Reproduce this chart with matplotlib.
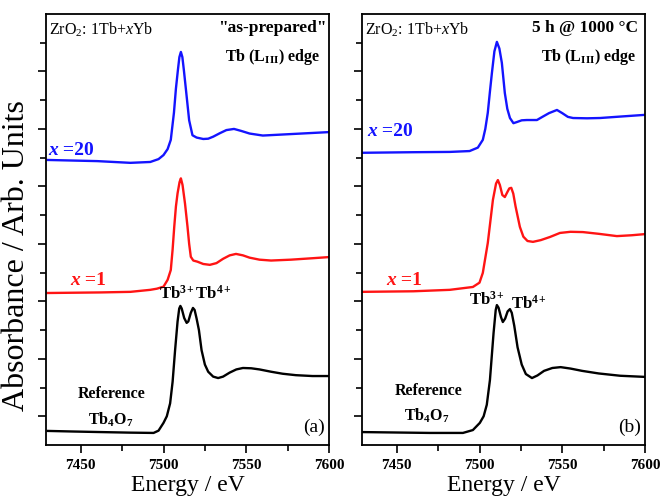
import matplotlib
matplotlib.use("Agg")
import matplotlib.pyplot as plt
from matplotlib.ticker import FixedLocator, MultipleLocator

plt.rcParams['font.family'] = ['Liberation Serif', 'DejaVu Serif']
plt.rcParams['mathtext.fontset'] = 'custom'
plt.rcParams['mathtext.rm'] = 'Liberation Serif'
plt.rcParams['mathtext.it'] = 'Liberation Serif:italic'
plt.rcParams['mathtext.bf'] = 'Liberation Serif:bold'

# ---------------- data: panel (a) "as-prepared" ----------------
a_ref_E = [7430, 7445, 7462, 7480, 7494, 7497, 7500, 7502, 7504, 7505.5, 7507, 7508.5, 7509.5,
           7510.2, 7511, 7512.5, 7514, 7515, 7516.5, 7517.8, 7518.8, 7520, 7521.4, 7523, 7525,
           7527, 7530, 7533, 7536, 7540, 7544, 7548, 7553, 7558, 7565, 7572, 7580, 7590, 7600]
a_ref_y = [0.49, 0.47, 0.45, 0.43, 0.42, 0.50, 0.77, 1.0, 1.45, 2.2, 3.3, 4.3, 4.75,
           4.84, 4.75, 4.42, 4.25, 4.3, 4.6, 4.77, 4.7, 4.4, 4.0, 3.3, 2.8,
           2.55, 2.38, 2.33, 2.38, 2.52, 2.63, 2.68, 2.67, 2.63, 2.55, 2.48, 2.43, 2.40, 2.40]

a_x1_E = [7430, 7462, 7480, 7492, 7496, 7500, 7502.5, 7504.4, 7505.5, 7506.5, 7507.5, 7508.5,
          7509.7, 7510.5, 7511.5, 7513, 7514.5, 7515.5, 7516.5, 7518, 7520.5, 7524, 7528,
          7532, 7536, 7540, 7543.8, 7548, 7552, 7558, 7565, 7577, 7590, 7600]
a_x1_y = [5.29, 5.31, 5.33, 5.40, 5.44, 5.51, 5.75, 6.09, 6.8, 7.6, 8.3, 8.76,
          9.15, 9.28, 9.05, 8.4, 7.6, 7.0, 6.55, 6.42, 6.38, 6.3, 6.27,
          6.33, 6.48, 6.6, 6.65, 6.6, 6.52, 6.45, 6.42, 6.45, 6.5, 6.54]

a_x20_E = [7430, 7460, 7480, 7492, 7497, 7500, 7502.5, 7504.4, 7506.3, 7507.5, 7508.7, 7509.6,
           7510.5, 7511.4, 7512.3, 7513.5, 7515.5, 7517.5, 7520, 7524, 7527, 7530, 7534,
           7538, 7542.6, 7547, 7552, 7560, 7570, 7580, 7590, 7600]
a_x20_y = [9.92, 9.88, 9.82, 9.85, 9.95, 10.09, 10.3, 10.62, 11.56, 12.4, 13.05, 13.5,
           13.68, 13.5, 13.05, 12.4, 11.3, 10.78, 10.7, 10.65, 10.66, 10.73, 10.85,
           10.96, 11.0, 10.93, 10.84, 10.77, 10.8, 10.83, 10.86, 10.89]

# ---------------- data: panel (b) "5 h @ 1000 °C" ----------------
b_ref_E = [7429, 7470, 7490, 7496, 7500.2, 7502.5, 7504.4, 7506.3, 7508.5, 7509.8, 7510.5,
           7511.5, 7513, 7514.1, 7515.5, 7517, 7518.4, 7519.5, 7521, 7523, 7525.5, 7528,
           7531.7, 7535, 7539, 7544, 7549, 7555, 7562, 7572, 7585, 7600]
b_ref_y = [0.45, 0.42, 0.42, 0.52, 0.77, 1.0, 1.4, 2.26, 3.9, 4.7, 4.87,
           4.78, 4.45, 4.28, 4.4, 4.65, 4.73, 4.6, 4.15, 3.4, 2.8, 2.47,
           2.33, 2.42, 2.58, 2.68, 2.71, 2.66, 2.58, 2.49, 2.41, 2.37]

b_x1_E = [7429, 7460, 7482, 7496, 7500, 7502, 7505, 7508.1, 7510, 7511.1, 7512.3, 7513.8,
          7515.3, 7516.8, 7518, 7519.2, 7520.4, 7521.8, 7524.4, 7526.5, 7529, 7532.3, 7537,
          7542.6, 7548.6, 7555, 7562.5, 7572, 7583, 7592, 7600]
b_x1_y = [5.33, 5.35, 5.40, 5.50, 5.65, 5.99, 7.03, 8.53, 9.1, 9.22, 9.05, 8.7,
          8.63, 8.8, 8.93, 8.95, 8.75, 8.3, 7.59, 7.25, 7.1, 7.07, 7.13,
          7.24, 7.38, 7.42, 7.41, 7.35, 7.27, 7.3, 7.34]

b_x20_E = [7429, 7460, 7482, 7494, 7499, 7502, 7503.5, 7505, 7506.3, 7507.5, 7509, 7510.5,
           7512, 7513.5, 7515.3, 7516.8, 7518.4, 7520.5, 7522.6, 7525.5, 7528.6, 7534.7,
           7538, 7542, 7546.8, 7550, 7553.4, 7556.5, 7565, 7572.8, 7585, 7600]
b_x20_y = [10.17, 10.19, 10.20, 10.23, 10.35, 10.62, 11.0, 11.56, 12.3, 12.95, 13.7, 14.03,
           13.8, 13.3, 12.25, 11.7, 11.38, 11.2, 11.24, 11.3, 11.31, 11.31,
           11.42, 11.55, 11.66, 11.55, 11.42, 11.38, 11.37, 11.38, 11.43, 11.49]

x_ticks = [7450, 7500, 7550, 7600]

BLUE = '#1414ff'
RED = '#ff1414'

fig = plt.figure(figsize=(6.62, 5.04), dpi=100)
ax_a = fig.add_axes([46/662, 1-445/504, (329-46)/662, (445-14)/504])
ax_b = fig.add_axes([362/662, 1-445/504, (645-362)/662, (445-14)/504])

lw = 1.7
for ax, ref, x1, x20 in [(ax_a, (a_ref_E, a_ref_y), (a_x1_E, a_x1_y), (a_x20_E, a_x20_y)),
                         (ax_b, (b_ref_E, b_ref_y), (b_x1_E, b_x1_y), (b_x20_E, b_x20_y))]:
    ax.plot(*ref, color='black', lw=lw, solid_joinstyle='round')
    ax.plot(*x1, color=RED, lw=lw, solid_joinstyle='round')
    ax.plot(*x20, color=BLUE, lw=lw, solid_joinstyle='round')
    ax.set_xlim(7429, 7600)
    ax.set_ylim(0, 15)
    ax.xaxis.set_major_locator(FixedLocator(x_ticks))
    ax.xaxis.set_minor_locator(MultipleLocator(25))
    ax.yaxis.set_major_locator(FixedLocator([1, 3, 5, 7, 9, 11, 13]))
    ax.yaxis.set_minor_locator(FixedLocator([2, 4, 6, 8, 10, 12, 14]))
    ax.set_yticklabels([])
    ax.tick_params(axis='both', which='both', direction='out', top=False, right=False, width=1.2)
    ax.tick_params(axis='x', which='major', length=6, labelsize=11, pad=4)
    ax.tick_params(axis='x', which='minor', length=4)
    ax.tick_params(axis='y', which='major', length=6)
    ax.tick_params(axis='y', which='minor', length=4)
    for lab in ax.get_xticklabels():
        lab.set_fontweight('bold')
    for s in ax.spines.values():
        s.set_linewidth(1.3)
    ax.set_xlabel('Energy / eV', fontsize=17, labelpad=2)
    ax.text(0.01, 0.985, r'ZrO$_2$: 1Tb+$x$Yb', transform=ax.transAxes, fontsize=11.5,
            ha='left', va='top')
    ax.text(0.97, 0.90, r'Tb (L$_\mathbf{III}$) edge', transform=ax.transAxes, fontsize=11.5,
            ha='right', va='center', fontweight='bold')


def x_label(ax, x, y, rest, color):
    t = ax.text(x, y, 'x', color=color, fontsize=14, fontweight='bold', fontstyle='italic',
                ha='left', va='bottom')
    ax.annotate(rest, xy=(1, 0), xycoords=t, color=color, fontsize=14, fontweight='bold',
                ha='left', va='bottom')


fig.text(17/662, 1-256/504, 'Absorbance / Arb. Units', rotation=90, fontsize=23,
         ha='center', va='center')

# panel (a) texts
ax_a.text(0.99, 0.985, '"as-prepared"', transform=ax_a.transAxes, fontsize=12.5,
          ha='right', va='top', fontweight='bold')
x_label(ax_a, 7430.5, 9.95, ' =20', BLUE)
x_label(ax_a, 7443.5, 5.42, ' =1', RED)
ax_a.text(7519, 4.95, r'Tb$^\mathbf{3+}$Tb$^\mathbf{4+}$', fontsize=12, fontweight='bold',
          ha='center', va='bottom')
ax_a.text(7468.5, 1.76, 'Reference', fontsize=11.5, fontweight='bold', ha='center', va='center')
ax_a.text(7468, 0.86, r'Tb$_\mathbf{4}$O$_\mathbf{7}$', fontsize=11.5, fontweight='bold',
          ha='center', va='center')
ax_a.text(0.985, 0.02, '(a)', transform=ax_a.transAxes, fontsize=14, ha='right', va='bottom')

# panel (b) texts
ax_b.text(0.975, 0.985, '5 h @ 1000 \u00b0C', transform=ax_b.transAxes, fontsize=12.5,
          ha='right', va='top', fontweight='bold')
x_label(ax_b, 7432, 10.6, ' =20', BLUE)
x_label(ax_b, 7443.5, 5.42, ' =1', RED)
ax_b.text(7504.5, 4.75, r'Tb$^\mathbf{3+}$', fontsize=12, fontweight='bold', ha='center', va='bottom')
ax_b.text(7530, 4.62, r'Tb$^\mathbf{4+}$', fontsize=12, fontweight='bold', ha='center', va='bottom')
ax_b.text(7469.5, 1.88, 'Reference', fontsize=11.5, fontweight='bold', ha='center', va='center')
ax_b.text(7468, 1.02, r'Tb$_\mathbf{4}$O$_\mathbf{7}$', fontsize=11.5, fontweight='bold',
          ha='center', va='center')
ax_b.text(0.985, 0.02, '(b)', transform=ax_b.transAxes, fontsize=14, ha='right', va='bottom')

fig.savefig('out.png', dpi=100)
